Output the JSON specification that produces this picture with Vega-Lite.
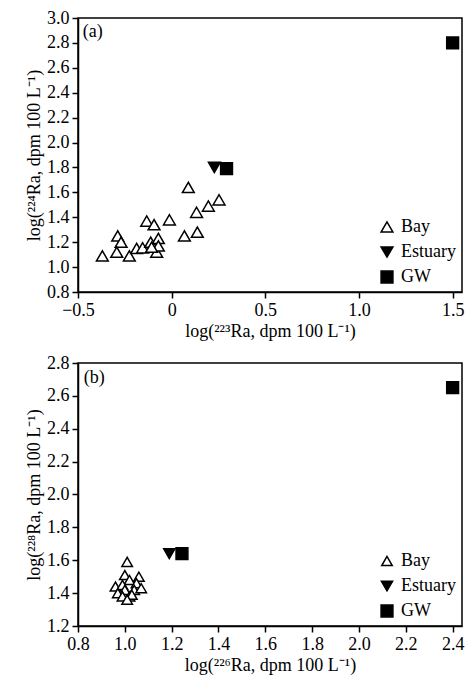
{
  "$schema": "https://vega.github.io/schema/vega-lite/v6.json",
  "padding": {"left": 24, "top": 8, "right": 0, "bottom": 0},
  "background": "white",
  "spacing": 12,
  "config": {
    "view": {"stroke": "black", "strokeWidth": 1.5},
    "font": "Liberation Serif",
    "axis": {
      "grid": false, "domainColor": "black", "domainWidth": 1.5,
      "tickColor": "black", "tickWidth": 1.5, "tickSize": 6, "tickCount": 30,
      "labelFont": "Liberation Serif", "labelFontSize": 18, "labelColor": "black",
      "labelOverlap": false, "labelFlush": false,
      "titleFont": "Liberation Serif", "titleFontSize": 18, "titleFontWeight": "normal", "titleColor": "black",
      "labelPadding": 3, "titlePadding": 3
    },
    "legend": {
      "orient": "bottom-right", "offset": 6, "title": null,
      "labelFont": "Liberation Serif", "labelFontSize": 18, "labelColor": "black",
      "symbolStrokeWidth": 1.5, "rowPadding": 7, "labelOffset": 5
    }
  },
  "datasets": {
    "a": [
      {"x": -0.37, "y": 1.09, "type": "Bay"},
      {"x": -0.288, "y": 1.25, "type": "Bay"},
      {"x": -0.27, "y": 1.20, "type": "Bay"},
      {"x": -0.293, "y": 1.12, "type": "Bay"},
      {"x": -0.226, "y": 1.09, "type": "Bay"},
      {"x": -0.187, "y": 1.15, "type": "Bay"},
      {"x": -0.155, "y": 1.155, "type": "Bay"},
      {"x": -0.133, "y": 1.37, "type": "Bay"},
      {"x": -0.094, "y": 1.34, "type": "Bay"},
      {"x": -0.112, "y": 1.20, "type": "Bay"},
      {"x": -0.071, "y": 1.23, "type": "Bay"},
      {"x": -0.08, "y": 1.12, "type": "Bay"},
      {"x": -0.071, "y": 1.17, "type": "Bay"},
      {"x": -0.107, "y": 1.16, "type": "Bay"},
      {"x": -0.012, "y": 1.38, "type": "Bay"},
      {"x": 0.068, "y": 1.25, "type": "Bay"},
      {"x": 0.089, "y": 1.64, "type": "Bay"},
      {"x": 0.137, "y": 1.28, "type": "Bay"},
      {"x": 0.133, "y": 1.44, "type": "Bay"},
      {"x": 0.196, "y": 1.49, "type": "Bay"},
      {"x": 0.253, "y": 1.54, "type": "Bay"},
      {"x": 0.228, "y": 1.80, "type": "Estuary"},
      {"x": 0.293, "y": 1.79, "type": "GW"},
      {"x": 1.50, "y": 2.80, "type": "GW"}
    ],
    "b": [
      {"x": 1.01, "y": 1.59, "type": "Bay"},
      {"x": 1.00, "y": 1.51, "type": "Bay"},
      {"x": 1.02, "y": 1.48, "type": "Bay"},
      {"x": 1.06, "y": 1.50, "type": "Bay"},
      {"x": 1.05, "y": 1.46, "type": "Bay"},
      {"x": 0.96, "y": 1.44, "type": "Bay"},
      {"x": 0.99, "y": 1.45, "type": "Bay"},
      {"x": 1.04, "y": 1.42, "type": "Bay"},
      {"x": 1.07, "y": 1.43, "type": "Bay"},
      {"x": 1.00, "y": 1.42, "type": "Bay"},
      {"x": 0.97, "y": 1.40, "type": "Bay"},
      {"x": 0.99, "y": 1.38, "type": "Bay"},
      {"x": 1.02, "y": 1.38, "type": "Bay"},
      {"x": 1.03, "y": 1.39, "type": "Bay"},
      {"x": 1.01, "y": 1.36, "type": "Bay"},
      {"x": 1.19, "y": 1.64, "type": "Estuary"},
      {"x": 1.244, "y": 1.64, "type": "GW"},
      {"x": 2.40, "y": 2.65, "type": "GW"}
    ],
    "labA": [{"x": -0.475, "y": 2.885, "label": "(a)"}],
    "labB": [{"x": 0.825, "y": 2.71, "label": "(b)"}]
  },
  "vconcat": [
    {
      "width": 384, "height": 274,
      "layer": [
        {
          "data": {"name": "a"},
          "mark": {"type": "point", "filled": true, "strokeWidth": 1.5, "opacity": 1},
          "encoding": {
            "x": {"field": "x", "type": "quantitative",
              "scale": {"domain": [-0.5, 1.55], "nice": false, "zero": false},
              "axis": {"values": [-0.5, 0, 0.5, 1.0, 1.5], "tickCount": 30, "labelExpr": "datum.value == 0 ? '0' : format(datum.value, '.1f')",
                "title": "log(\u00b2\u00b2\u00b3Ra, dpm 100 L\u207b\u00b9)"}},
            "y": {"field": "y", "type": "quantitative",
              "scale": {"domain": [0.8, 3.0], "nice": false, "zero": false},
              "axis": {"values": [0.8, 1.0, 1.2, 1.4, 1.6, 1.8, 2.0, 2.2, 2.4, 2.6, 2.8, 3.0], "tickCount": 30, "format": ".1f",
                "title": "log(\u00b2\u00b2\u2074Ra, dpm 100 L\u207b\u00b9)"}},
            "shape": {"field": "type", "type": "nominal",
              "scale": {"domain": ["Bay", "Estuary", "GW"], "range": ["triangle-up", "triangle-down", "square"]}},
            "fill": {"field": "type", "type": "nominal",
              "scale": {"domain": ["Bay", "Estuary", "GW"], "range": ["white", "black", "black"]}},
            "stroke": {"field": "type", "type": "nominal",
              "scale": {"domain": ["Bay", "Estuary", "GW"], "range": ["black", "black", "black"]}},
            "size": {"field": "type", "type": "nominal",
              "scale": {"domain": ["Bay", "Estuary", "GW"], "range": [140, 140, 85]}}
          }
        },
        {
          "data": {"name": "labA"},
          "mark": {"type": "text", "align": "left", "baseline": "middle", "fontSize": 18, "font": "Liberation Serif", "color": "black"},
          "encoding": {
            "x": {"field": "x", "type": "quantitative"},
            "y": {"field": "y", "type": "quantitative"},
            "text": {"field": "label"}
          }
        }
      ]
    },
    {
      "width": 384, "height": 263,
      "layer": [
        {
          "data": {"name": "b"},
          "mark": {"type": "point", "filled": true, "strokeWidth": 1.5, "opacity": 1},
          "encoding": {
            "x": {"field": "x", "type": "quantitative",
              "scale": {"domain": [0.8, 2.44], "nice": false, "zero": false},
              "axis": {"values": [0.8, 1.0, 1.2, 1.4, 1.6, 1.8, 2.0, 2.2, 2.4], "tickCount": 30, "format": ".1f",
                "title": "log(\u00b2\u00b2\u2076Ra, dpm 100 L\u207b\u00b9)"}},
            "y": {"field": "y", "type": "quantitative",
              "scale": {"domain": [1.2, 2.8], "nice": false, "zero": false},
              "axis": {"values": [1.2, 1.4, 1.6, 1.8, 2.0, 2.2, 2.4, 2.6, 2.8], "tickCount": 30, "format": ".1f",
                "title": "log(\u00b2\u00b2\u2078Ra, dpm 100 L\u207b\u00b9)"}},
            "shape": {"field": "type", "type": "nominal",
              "scale": {"domain": ["Bay", "Estuary", "GW"], "range": ["triangle-up", "triangle-down", "square"]}},
            "fill": {"field": "type", "type": "nominal",
              "scale": {"domain": ["Bay", "Estuary", "GW"], "range": ["white", "black", "black"]}},
            "stroke": {"field": "type", "type": "nominal",
              "scale": {"domain": ["Bay", "Estuary", "GW"], "range": ["black", "black", "black"]}},
            "size": {"field": "type", "type": "nominal",
              "scale": {"domain": ["Bay", "Estuary", "GW"], "range": [110, 140, 85]}}
          }
        },
        {
          "data": {"name": "labB"},
          "mark": {"type": "text", "align": "left", "baseline": "middle", "fontSize": 18, "font": "Liberation Serif", "color": "black"},
          "encoding": {
            "x": {"field": "x", "type": "quantitative"},
            "y": {"field": "y", "type": "quantitative"},
            "text": {"field": "label"}
          }
        }
      ]
    }
  ],
  "resolve": {"scale": {"shape": "independent", "fill": "independent", "stroke": "independent", "size": "independent"}, "legend": {"shape": "independent", "fill": "independent", "stroke": "independent", "size": "independent"}}
}
